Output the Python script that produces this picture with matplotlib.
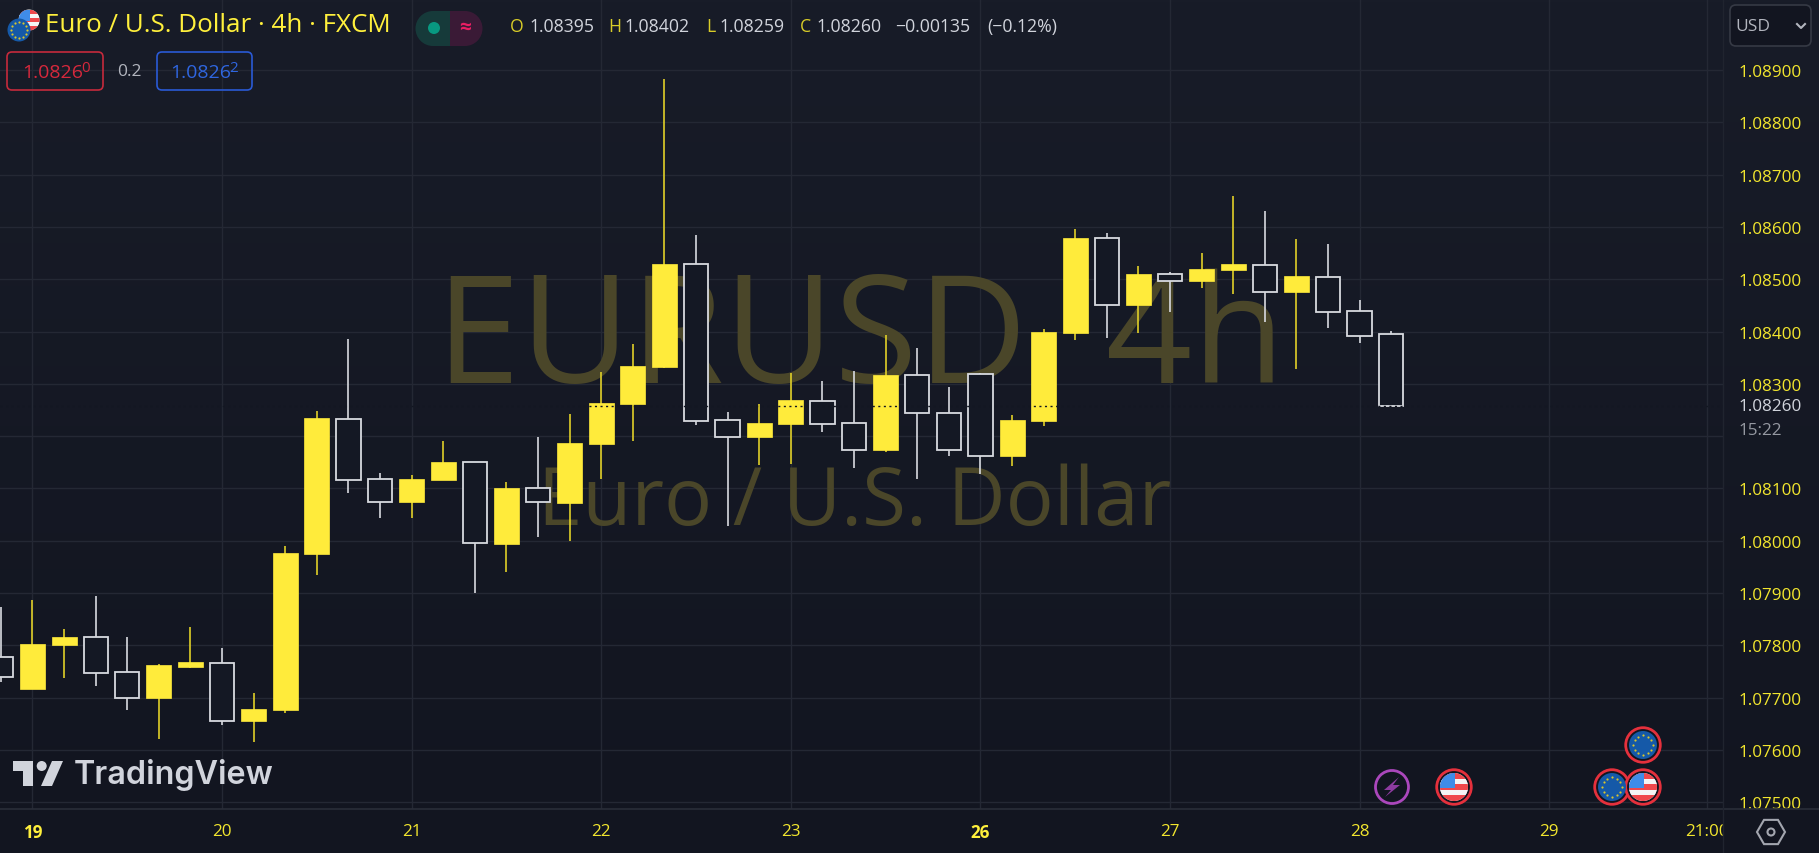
import numpy as np
import matplotlib
matplotlib.use('Agg')
import matplotlib.pyplot as plt
import matplotlib.ticker as mticker
from matplotlib.patches import Circle, FancyBboxPatch, Polygon, Rectangle, RegularPolygon

plt.rcParams['font.family'] = ['Open Sans', 'DejaVu Sans']

# 4h candles
opens = [1.07778, 1.07716, 1.07801, 1.07815, 1.07749, 1.07699, 1.07759, 1.07767, 1.07655,
         1.07676, 1.07974, 1.08233, 1.08118, 1.08074, 1.08117, 1.08151, 1.07994, 1.08100,
         1.08073, 1.08185, 1.08261, 1.08333, 1.08529, 1.08230, 1.08198, 1.08224, 1.08268,
         1.08225, 1.08173, 1.08317, 1.08245, 1.08319, 1.08162, 1.08229, 1.08397, 1.08579,
         1.08450, 1.08510, 1.08497, 1.08517, 1.08528, 1.08476, 1.08505, 1.08439, 1.08395]
highs = [1.07874, 1.07887, 1.07831, 1.07895, 1.07815, 1.07765, 1.07836, 1.07795, 1.07708,
         1.07989, 1.08249, 1.08386, 1.08129, 1.08126, 1.08190, 1.08151, 1.08113, 1.08198,
         1.08243, 1.08322, 1.08376, 1.08883, 1.08585, 1.08247, 1.08261, 1.08320, 1.08305,
         1.08325, 1.08394, 1.08368, 1.08294, 1.08320, 1.08241, 1.08404, 1.08597, 1.08588,
         1.08526, 1.08513, 1.08551, 1.08659, 1.08630, 1.08577, 1.08567, 1.08460, 1.08402]
lows = [1.07729, 1.07716, 1.07737, 1.07722, 1.07676, 1.07620, 1.07757, 1.07648, 1.07615,
        1.07671, 1.07935, 1.08091, 1.08043, 1.08043, 1.08117, 1.07900, 1.07941, 1.08007,
        1.07999, 1.08119, 1.08190, 1.08330, 1.08221, 1.08028, 1.08144, 1.08147, 1.08208,
        1.08140, 1.08170, 1.08119, 1.08163, 1.08127, 1.08142, 1.08219, 1.08384, 1.08387,
        1.08397, 1.08438, 1.08483, 1.08471, 1.08418, 1.08328, 1.08407, 1.08379, 1.08257]
closes = [1.07740, 1.07803, 1.07815, 1.07748, 1.07699, 1.07762, 1.07768, 1.07655, 1.07678,
          1.07977, 1.08234, 1.08117, 1.08074, 1.08119, 1.08151, 1.07995, 1.08101, 1.08074,
          1.08187, 1.08264, 1.08335, 1.08529, 1.08229, 1.08198, 1.08226, 1.08269, 1.08224,
          1.08173, 1.08317, 1.08245, 1.08173, 1.08163, 1.08231, 1.08399, 1.08579, 1.08451,
          1.08511, 1.08497, 1.08519, 1.08529, 1.08476, 1.08506, 1.08438, 1.08392, 1.08258]

price_ticks = [1.089, 1.088, 1.087, 1.086, 1.085, 1.084, 1.083, 1.081, 1.080,
               1.079, 1.078, 1.077, 1.076, 1.075]
grid_prices = price_ticks + [1.082]
day_pos = [1, 7, 13, 19, 25, 31, 37, 43, 49, 54]
day_labels = ['19', '20', '21', '22', '23', '26', '27', '28', '29', '21:00']
bold_days = ['19', '26']
last_label = '1.08260'

YELLOW = '#ffeb3b'
WICK_Y = '#e0cf28'
WHITE = '#d8dae0'
TXT_Y = '#f2e62e'
GRID = '#242834'
BG = '#141824'
W, H = 1819, 854

fig = plt.figure(figsize=(W / 100, H / 100), dpi=100)

# background gradient
bg = fig.add_axes([0, 0, 1, 1], zorder=0)
bg.imshow(np.linspace(0, 1, 256).reshape(-1, 1), aspect='auto', extent=(0, 1, 0, 1),
          cmap=matplotlib.colors.LinearSegmentedColormap.from_list('bg', ['#181c28', '#121520']))
bg.axis('off')

# price pane
ax = fig.add_axes([0, 44 / H, 1723 / W, 810 / H], zorder=1)
ax.patch.set_visible(False)
ax.set_xlim(-0.028, 54.5)
ax.set_ylim(1.07487, 1.09036)
ax.hlines(grid_prices, -1, 55, color=GRID, lw=1, zorder=0.5)
ax.vlines(day_pos, 0, 2, color=GRID, lw=1, zorder=0.5)

# watermark
ax.text(436 / W, 1 - 383 / H, 'EURUSD, 4h', transform=fig.transFigure, fontsize=109,
        color='#4a4629', va='baseline', ha='left', zorder=1)
ax.text(538 / W, 1 - 525 / H, 'Euro / U.S. Dollar', transform=fig.transFigure, fontsize=57.5,
        color='#4a4629', va='baseline', ha='left', zorder=1)

o = np.array(opens)
c = np.array(closes)
x = np.arange(len(o))
up = c >= o
ax.vlines(x[up], np.array(lows)[up], np.array(highs)[up], color=WICK_Y, lw=1.2, zorder=2)
ax.vlines(x[~up], np.array(lows)[~up], np.array(highs)[~up], color=WHITE, lw=1.2, zorder=2)
ax.bar(x[up], (c - o)[up], bottom=o[up], width=0.79, color=YELLOW, edgecolor=YELLOW, lw=0.5, zorder=3)
ax.bar(x[~up], (o - c)[~up], bottom=c[~up], width=0.77, color=BG, edgecolor=WHITE, lw=1.3, zorder=3)
ax.axhline(closes[-1], color='#131722', lw=1, ls=(0, (1.5, 2.5)), zorder=4)

ax.yaxis.tick_right()
ax.set_yticks(price_ticks)
ax.yaxis.set_major_formatter(mticker.FormatStrFormatter('%.5f'))
ax.set_xticks(day_pos)
ax.set_xticklabels(day_labels)
ax.tick_params(axis='both', length=0, labelcolor=TXT_Y, labelsize=12.3)
ax.tick_params(axis='y', pad=10.8)
ax.tick_params(axis='x', pad=10)
for lab in ax.get_xticklabels():
    if lab.get_text() in bold_days:
        lab.set_fontweight('bold')
        lab.set_color('#fff03c')
for s in ['top', 'left', 'right', 'bottom']:
    ax.spines[s].set_visible(False)

# screen furniture, in pixels
ui = fig.add_axes([0, 0, 1, 1], zorder=2)
ui.set_xlim(0, W)
ui.set_ylim(H, 0)
ui.axis('off')
ui.add_patch(Rectangle((1723, 810), 96, 44, color='#121520', zorder=1))
ui.plot([0, W], [810, 810], color='#2a2e39', lw=1.2, zorder=2)
ui.plot([1723, 1723], [0, 854], color='#20242f', lw=1, zorder=2)


def box(x0, y0, x1, y1, edge, face='none', r=5, lw=1.2):
    ui.add_patch(FancyBboxPatch((x0 + r, y0 + r), x1 - x0 - 2 * r, y1 - y0 - 2 * r,
                                boxstyle='round,pad=%d' % r, ec=edge, fc=face, lw=lw, zorder=3))


def label(px, py, s, color, size=12, ha='left', **kw):
    ui.text(px, py, s, color=color, fontsize=size, ha=ha, va='center', zorder=6, **kw)


def us_flag(cx, cy, r):
    disc = Circle((cx, cy), r, fc='#f5f5f5', ec='none', zorder=5)
    ui.add_patch(disc)
    for k, col in enumerate(['#f0484c', '#f5f5f5', '#f0484c', '#f5f5f5', '#f0484c']):
        st = Rectangle((cx - r, cy - r + k * 2 * r / 5), 2 * r, 2 * r / 5, fc=col, ec='none', zorder=5)
        ui.add_patch(st)
        st.set_clip_path(disc)
    cant = Rectangle((cx - r, cy - r), r * 1.1, r * 1.05, fc='#3f8ce8', ec='none', zorder=5)
    ui.add_patch(cant)
    cant.set_clip_path(disc)


def eu_flag(cx, cy, r):
    ui.add_patch(Circle((cx, cy), r, fc='#1559a8', ec='none', zorder=5))
    t = np.arange(12) * np.pi / 6
    ui.scatter(cx + 0.68 * r * np.cos(t), cy + 0.68 * r * np.sin(t), s=2.5, color='#d9c62e', lw=0, zorder=6)


def ring(cx, cy, color='#e5303c'):
    ui.add_patch(Circle((cx, cy), 17.3, fc='#121520', ec=color, lw=2, zorder=4))


# header
us_flag(29, 21, 10.5)
eu_flag(19, 31, 11.5)
label(45, 25, 'Euro / U.S. Dollar · 4h · FXCM', '#fff03c', size=18.7)
ui.add_patch(Rectangle((433, 12), 17, 35, fc='#163a3a', ec='none', zorder=3))
ui.add_patch(Rectangle((450, 12), 15, 35, fc='#3a1a36', ec='none', zorder=3))
ui.add_patch(Circle((433, 29.5), 17.5, fc='#163a3a', ec='none', zorder=2.9))
ui.add_patch(Circle((465, 29.5), 17.5, fc='#3a1a36', ec='none', zorder=2.9))
ui.add_patch(Circle((434, 29), 6, fc='#089981', ec='none', zorder=4))
label(465, 28, '≈', '#e91e63', size=15, ha='center', fontweight='bold')

legend_x = [510, 529, 608, 624, 706, 719, 800, 816]
legend_s = ['O', '1.08395', 'H', '1.08402', 'L', '1.08259', 'C', '1.08260']
for lx, s in zip(legend_x, legend_s):
    label(lx, 27, s, '#d8cc28' if len(s) == 1 else '#d1d4dc', size=12.7)
label(895, 27, '−0.00135', '#d1d4dc', size=12.7)
label(987, 27, '(−0.12%)', '#d1d4dc', size=12.7)

box(7, 53, 103, 91, '#c62a3c')
label(22, 73, '1.0826', '#d6283c', size=14)
label(81, 69, '0', '#d6283c', size=11)
label(117, 72, '0.2', '#b2b5be', size=12.5)
box(157, 53, 252, 91, '#2a5ad6')
label(170, 73, '1.0826', '#2f66e0', size=14)
label(229, 69, '2', '#2f66e0', size=11)

# currency box
box(1730, 6, 1811, 47, '#363a45', face='#121520', r=6)
label(1735, 27, 'USD', '#b2b5be', size=12.5)
ui.plot([1797, 1801, 1805], [25, 29, 25], color='#b2b5be', lw=1.5, zorder=6)

# last price and countdown
label(1738, 407, last_label, '#d1d4dc', size=12.3)
label(1738, 431, '15:22', '#9598a1', size=12.3)

# events
ui.add_patch(Circle((1392, 788), 16.5, fc='none', ec='#ab47bc', lw=2, zorder=4))
ui.add_patch(Polygon([(1399, 778), (1384, 791), (1391, 791), (1385, 798), (1400, 786), (1393, 786)],
                     fc='#8e3ba0', ec='none', zorder=5))
ring(1454, 788)
us_flag(1454, 788, 14)
ring(1612, 788)
eu_flag(1612, 788, 14)
ring(1643, 788)
us_flag(1643, 788, 14)
ring(1643, 746)
eu_flag(1643, 746, 14)

# tradingview mark
LOGO = '#d1d4dc'
ui.add_patch(Polygon([(13, 762), (33, 762), (33, 787), (23, 787), (23, 772), (13, 772)], fc=LOGO, ec='none', zorder=5))
ui.add_patch(Circle((41.7, 767), 5, fc=LOGO, ec='none', zorder=5))
ui.add_patch(Polygon([(52, 762), (63, 762), (52, 787), (41, 787)], fc=LOGO, ec='none', zorder=5))
label(74, 775, 'TradingView', LOGO, size=23.3, fontweight='semibold', family='Inter')

# settings
ui.add_patch(RegularPolygon((1771, 833), 6, radius=14, orientation=np.pi / 6, fc='none', ec='#a3a6af', lw=1.5, zorder=5))
ui.add_patch(Circle((1771, 833), 3.5, fc='none', ec='#a3a6af', lw=1.5, zorder=5))

fig.savefig('out.png', dpi=100, facecolor='#121520')
